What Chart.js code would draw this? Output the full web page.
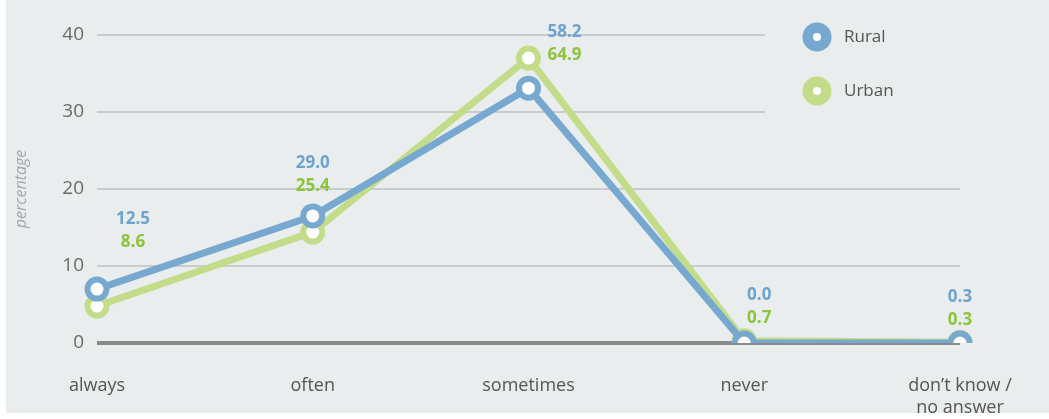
<!DOCTYPE html>
<html>
<head>
<meta charset="utf-8">
<script src="https://cdn.jsdelivr.net/npm/chart.js@4/dist/chart.umd.min.js"></script>
<style>
  html, body { margin: 0; padding: 0; background: #ffffff; }
  #wrap { width: 1049px; height: 419px; position: relative; }
</style>
</head>
<body>
<div id="wrap"><canvas id="chart" width="1049" height="419"></canvas></div>
<script>
// data
const categories = ["always", "often", "sometimes", "never", ["don\u2019t know /", "no answer"]]
const rural = [7.0, 16.5, 33.1, 0, 0]
const urban = [4.8, 14.4, 37.0, 0.3, 0.1]
// printed numbers (they differ from the plotted height in the original)
const ruralText = ["12.5", "29.0", "58.2", "0.0", "0.3"]
const urbanText = ["8.6", "25.4", "64.9", "0.7", "0.3"]
const yTicks = [0, 10, 20, 30, 40]

// where the number pairs sit relative to the higher point
const labelDx = [36, 0, 36, 15, 0]
const labelDy = [-70, -53, -26, -46, -45]

const BG = "#e9edee"
const BLUE = "#76a8d0"
const GREEN = "#c3dc8a"
const BLUE_TXT = "#6fa3cf"
const GREEN_TXT = "#8cc43c"
const FONT = "'Open Sans', 'Noto Sans', sans-serif"

// background + legend + value labels
const decor = {
  id: "decor",
  beforeDraw(chart) {
    const ctx = chart.ctx
    ctx.save()
    ctx.fillStyle = BG
    ctx.fillRect(6, 0, chart.width - 6, 413)
    ctx.restore()
  },
  beforeDatasetsDraw(chart) {
    // legend area cuts the upper grid lines
    const ctx = chart.ctx
    ctx.save()
    ctx.fillStyle = BG
    ctx.fillRect(765, 0, 300, 130)
    ctx.restore()
  },
  afterDraw(chart) {
    const ctx = chart.ctx
    const x = chart.scales.x
    const y = chart.scales.y
    ctx.save()

    // legend
    const items = [["Rural", BLUE, 37], ["Urban", GREEN, 91]]
    items.forEach(([name, col, cy]) => {
      ctx.beginPath()
      ctx.arc(817, cy, 14.5, 0, Math.PI * 2)
      ctx.fillStyle = col
      ctx.fill()
      ctx.beginPath()
      ctx.arc(817, cy, 4, 0, Math.PI * 2)
      ctx.fillStyle = "#ffffff"
      ctx.fill()
      ctx.fillStyle = "#555555"
      ctx.font = "17px " + FONT
      ctx.textAlign = "left"
      ctx.textBaseline = "middle"
      ctx.fillText(name, 844, cy)
    })

    // value labels
    ctx.font = "bold 17px " + FONT
    ctx.textAlign = "center"
    ctx.textBaseline = "middle"
    categories.forEach((c, i) => {
      const px = x.getPixelForValue(i) + labelDx[i]
      const top = y.getPixelForValue(Math.max(rural[i], urban[i])) + labelDy[i]
      ctx.fillStyle = BLUE_TXT
      ctx.fillText(ruralText[i], px, top)
      ctx.fillStyle = GREEN_TXT
      ctx.fillText(urbanText[i], px, top + 23)
    })
    ctx.restore()
  },
}

new Chart(document.getElementById("chart"), {
  type: "line",
  data: {
    labels: categories,
    datasets: [
      {
        label: "Rural",
        data: rural,
        borderColor: BLUE,
        borderWidth: 7,
        pointRadius: 9.5,
        pointHoverRadius: 9.5,
        pointBorderWidth: 6,
        pointBackgroundColor: "#ffffff",
        pointBorderColor: BLUE,
        tension: 0,
      },
      {
        label: "Urban",
        data: urban,
        borderColor: GREEN,
        borderWidth: 7,
        pointRadius: 9.5,
        pointHoverRadius: 9.5,
        pointBorderWidth: 6,
        pointBackgroundColor: "#ffffff",
        pointBorderColor: GREEN,
        tension: 0,
      },
    ],
  },
  options: {
    responsive: false,
    animation: false,
    layout: { padding: { top: 35, right: 89, left: 0, bottom: 0 } },
    plugins: {
      legend: { display: false },
      tooltip: { enabled: false },
    },
    scales: {
      x: {
        offset: false,
        grid: { display: false },
        border: { display: false },
        ticks: {
          color: "#555555",
          font: { family: FONT, size: 18 },
          padding: 24,
          maxRotation: 0,
          autoSkip: false,
        },
        afterFit(scale) { scale.height = 76 },
      },
      y: {
        min: 0,
        max: 40,
        afterBuildTicks(scale) { scale.ticks = yTicks.map((v) => ({ value: v })) },
        border: { display: false },
        grid: {
          drawTicks: false,
          color: (c) => (c.tick && c.tick.value === 0 ? "#8a8a8a" : "#c9cbcc"),
          lineWidth: (c) => (c.tick && c.tick.value === 0 ? 4 : 2),
        },
        ticks: {
          color: "#6a6a6a",
          font: { family: FONT, size: 19 },
          padding: 13,
        },
        title: {
          display: true,
          text: "percentage",
          color: "#a3a6a8",
          font: { family: FONT, size: 16, style: "italic" },
          padding: { top: 12, bottom: 20 },
        },
        afterFit(scale) { scale.width = 97 },
      },
    },
  },
  plugins: [decor],
})
</script>
</body>
</html>
